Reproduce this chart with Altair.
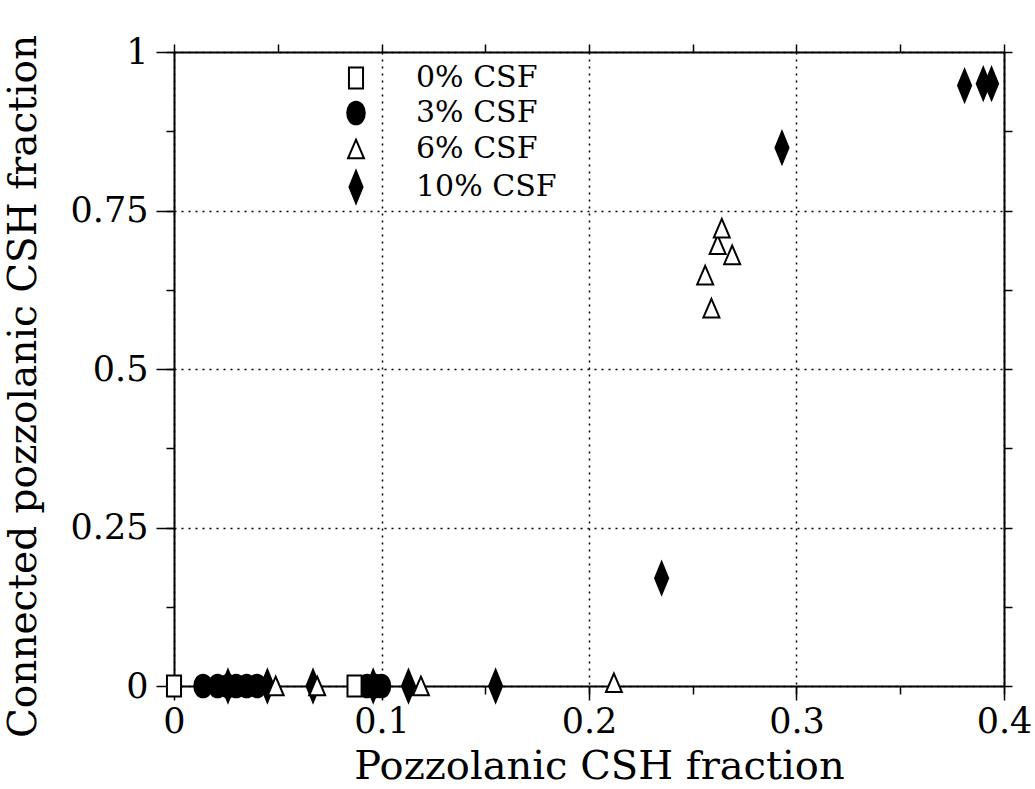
import altair as alt
import pandas as pd

# ---- data ----
series_order = ["0% CSF", "3% CSF", "6% CSF", "10% CSF"]

csf0_x = [0.0, 0.087]
csf0_y = [0.0, 0.0]

csf3_x = [0.014, 0.021, 0.026, 0.030, 0.035, 0.040, 0.093, 0.097, 0.100]
csf3_y = [0.0, 0.0, 0.0, 0.0, 0.0, 0.0, 0.0, 0.0, 0.0]

csf6_x = [0.049, 0.069, 0.119, 0.212, 0.256, 0.259, 0.262, 0.264, 0.269]
csf6_y = [0.0, 0.0, 0.0, 0.005, 0.648, 0.596, 0.696, 0.722, 0.680]

csf10_x = [0.026, 0.045, 0.067, 0.096, 0.113, 0.155, 0.235, 0.293, 0.381, 0.390, 0.394]
csf10_y = [0.0, 0.0, 0.0, 0.0, 0.0, 0.0, 0.170, 0.849, 0.947, 0.950, 0.950]

x_major = [0.0, 0.1, 0.2, 0.3, 0.4]
x_minor = [0.0, 0.05, 0.1, 0.15, 0.2, 0.25, 0.3, 0.35, 0.4]
y_major = [0.0, 0.25, 0.5, 0.75, 1.0]
y_minor = [0.0, 0.125, 0.25, 0.375, 0.5, 0.625, 0.75, 0.875, 1.0]

rows = []
for name, xs_, ys_ in [("3% CSF", csf3_x, csf3_y), ("10% CSF", csf10_x, csf10_y),
                       ("6% CSF", csf6_x, csf6_y), ("0% CSF", csf0_x, csf0_y)]:
    for a, b in zip(xs_, ys_):
        rows.append({"series": name, "x": a, "y": b})
df = pd.DataFrame(rows)

# marker shapes (unit paths, scaled by vega)
square_path = "M-0.44,-0.66L0.44,-0.66L0.44,0.66L-0.44,0.66Z"
ellipse_path = "M-0.55,0A0.55,0.71,0,1,0,0.55,0A0.55,0.71,0,1,0,-0.55,0Z"
triangle_path = "M0,-0.58L0.5,0.58L-0.5,0.58Z"
diamond_path = "M0,-1L0.41,0L0,1L-0.41,0Z"

FONT = "DejaVu Serif"
W, H = 830, 634

xs = alt.Scale(domain=[0, 0.4], nice=False, zero=False)
ys = alt.Scale(domain=[0, 1], nice=False, zero=False)


def legend_def():
    return alt.Legend(title=None, orient="none", legendX=165, legendY=9,
                      labelFont=FONT, labelFontSize=30, labelColor="black",
                      labelOffset=43, rowPadding=3, padding=0,
                      symbolSize=1024, symbolStrokeColor="black",
                      symbolStrokeWidth=2)


points = alt.Chart(df).mark_point(strokeWidth=2, opacity=1, size=1024).encode(
    x=alt.X("x:Q", scale=xs, axis=alt.Axis(
        orient="bottom", values=x_major, tickSize=14, tickWidth=1.5, tickColor="black",
        labelExpr="toString(round(datum.value*10)/10)",
        labelFontSize=35, labelFont=FONT, labelColor="black", labelPadding=4,
        labelFlush=False,
        grid=True, gridDash=[2, 5], gridColor="black", gridWidth=1.5, gridOpacity=1,
        domainColor="black", domainWidth=2,
        title="Pozzolanic CSH fraction", titleFont=FONT, titleFontSize=40,
        titleFontWeight="normal", titleColor="black",
        titleX=425, titleY=80, titleBaseline="middle", titleAlign="center")),
    y=alt.Y("y:Q", scale=ys, axis=alt.Axis(
        orient="left", values=y_major, tickSize=18, tickWidth=1.5, tickColor="black",
        labelExpr="toString(round(datum.value*4)/4)",
        labelFontSize=35, labelFont=FONT, labelColor="black", labelPadding=8,
        labelFlush=False,
        grid=True, gridDash=[2, 5], gridColor="black", gridWidth=1.5, gridOpacity=1,
        domainColor="black", domainWidth=2,
        title="Connected pozzolanic CSH fraction", titleFont=FONT, titleFontSize=39,
        titleFontWeight="normal", titleColor="black", titleAngle=270,
        titleX=-151, titleY=334, titleBaseline="middle", titleAlign="center")),
    shape=alt.Shape("series:N", scale=alt.Scale(
        domain=series_order,
        range=[square_path, ellipse_path, triangle_path, diamond_path]),
        legend=legend_def()),
    fill=alt.Fill("series:N", scale=alt.Scale(
        domain=series_order, range=["white", "black", "white", "black"]),
        legend=legend_def()),
    stroke=alt.Stroke("series:N", scale=alt.Scale(
        domain=series_order, range=["black", "black", "black", "black"]),
        legend=legend_def()),
)

frame_top_right = alt.Chart(df).mark_point(opacity=0).encode(
    x=alt.X("x:Q", scale=xs, axis=alt.Axis(
        orient="top", values=x_minor, tickSize=8, tickWidth=1.5, tickColor="black",
        labels=False, grid=False, domainColor="black", domainWidth=2, title=None)),
    y=alt.Y("y:Q", scale=ys, axis=alt.Axis(
        orient="right", values=y_minor, tickSize=8, tickWidth=1.5, tickColor="black",
        labels=False, grid=False, domainColor="black", domainWidth=2, title=None)),
)

minor_bottom_left = alt.Chart(df).mark_point(opacity=0).encode(
    x=alt.X("x:Q", scale=xs, axis=alt.Axis(
        orient="bottom", values=x_minor, tickSize=8, tickWidth=1.5, tickColor="black",
        labels=False, grid=False, domain=False, title=None)),
    y=alt.Y("y:Q", scale=ys, axis=alt.Axis(
        orient="left", values=y_minor, tickSize=8, tickWidth=1.5, tickColor="black",
        labels=False, grid=False, domain=False, title=None)),
)

chart = alt.layer(minor_bottom_left, frame_top_right, points).resolve_axis(
    x="independent", y="independent"
).properties(
    width=W, height=H,
    autosize=alt.AutoSizeParams(type="none"),
    padding={"left": 174, "top": 52, "right": 31, "bottom": 103},
    background="white",
).configure_view(stroke=None)

chart.save("out.html", embed_options={"renderer": "svg", "actions": False})
